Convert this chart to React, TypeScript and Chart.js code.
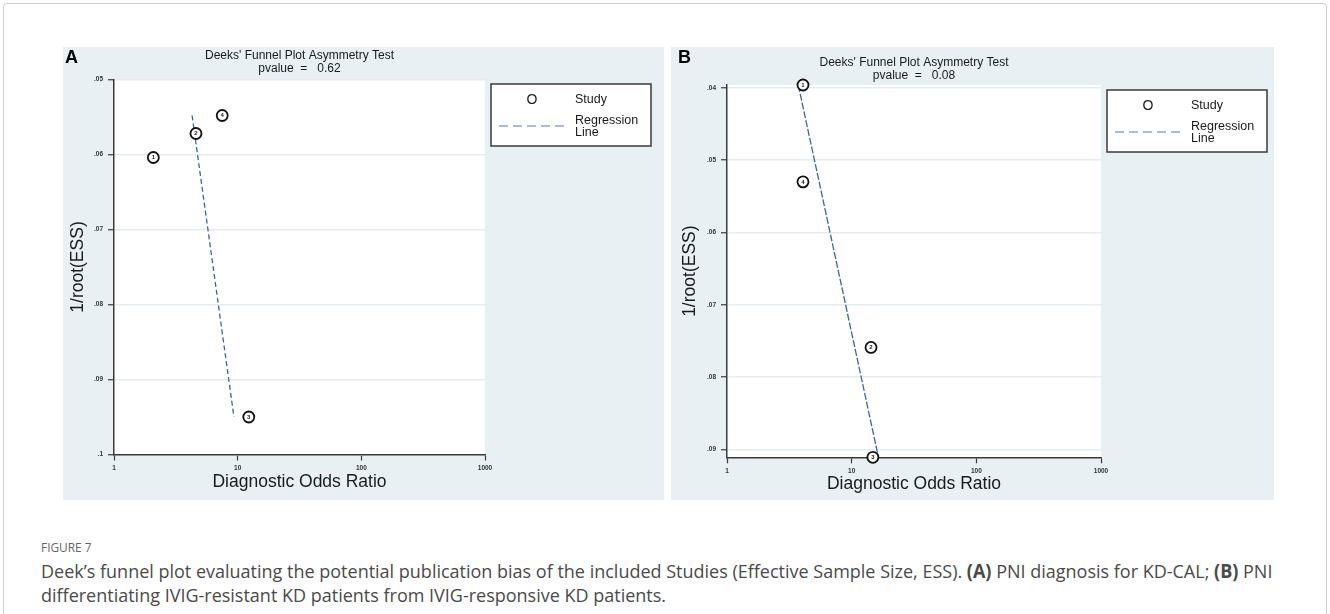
import React, { useEffect, useRef } from "react";
import { Chart, registerables } from "chart.js";

Chart.register(...registerables);

// ---------- data ----------
const xTickValues = [1, 10, 100, 1000];
const studyLabels = ["1", "2", "3", "4"];

// Panel A
const dorA = [2.08, 4.6, 12.3, 7.5];
const essA = [0.0604, 0.0572, 0.095, 0.0548];
const lineDorA = [4.28, 9.33];
const lineEssA = [0.0548, 0.095];
const yTicksA = [0.05, 0.06, 0.07, 0.08, 0.09, 0.1];
const yRangeA = [0.05, 0.1];
const pvalueA = "0.62";

// Panel B
const dorB = [4.07, 14.3, 14.8, 4.07];
const essB = [0.0396, 0.0759, 0.0911, 0.053];
const lineDorB = [3.73, 16.4];
const lineEssB = [0.0396, 0.0911];
const yTicksB = [0.04, 0.05, 0.06, 0.07, 0.08, 0.09];
const yRangeB = [0.0396, 0.0911];
const pvalueB = "0.08";

const titleText = "Deeks' Funnel Plot Asymmetry Test";
const xTitle = "Diagnostic Odds Ratio";
const yTitle = "1/root(ESS)";
const legendStudy = "Study";
const legendLine = ["Regression", "Line"];

// ---------- styles ----------
const FONT = '"Liberation Sans", Arial, Helvetica, sans-serif';
const PANEL_BG = "#e8f0f3";
const GRID = "#e3ecf0";
const AXIS = "#3a3a3a";
const TEXT = "#1a1a1a";
const REG = "#40649a";

type Box = { left: number; top: number; width: number; height: number };
type Area = { left: number; right: number; top: number; bottom: number };

type PanelProps = {
  letter: string;
  dor: number[];
  ess: number[];
  lineDor: number[];
  lineEss: number[];
  yTicks: number[];
  yRange: number[];
  pvalue: string;
  box: Box;
  area: Area;
  yTitlePad: number;
  xTitlePad: number;
  titleY: number;
  letterX: number;
  legend: { x: number; y: number };
  lineDash: number[];
};

const fmtY = (v: number) => {
  let s = Number(v).toFixed(2);
  s = s.replace(/^0/, "");
  s = s.replace(/0$/, "");
  return s;
};

function Panel(p: PanelProps) {
  const ref = useRef<HTMLCanvasElement | null>(null);

  useEffect(() => {
    if (!ref.current) return;
    const { box, area } = p;
    const padding = {
      left: 0,
      top: area.top,
      right: box.width - area.right,
      bottom: 0,
    };
    const yW = area.left;
    const xH = box.height - area.bottom;

    const deco = {
      id: "panelDeco",
      beforeDraw(chart: any) {
        const { ctx, chartArea: ca, width, height } = chart;
        ctx.save();
        ctx.fillStyle = PANEL_BG;
        ctx.fillRect(0, 0, width, height);
        ctx.fillStyle = "#ffffff";
        ctx.fillRect(ca.left, ca.top, ca.right - ca.left, ca.bottom - ca.top);
        ctx.restore();
      },
      afterDatasetsDraw(chart: any) {
        const { ctx } = chart;
        const meta = chart.getDatasetMeta(0);
        ctx.save();
        ctx.fillStyle = TEXT;
        ctx.font = `bold 6px ${FONT}`;
        ctx.textAlign = "center";
        ctx.textBaseline = "middle";
        meta.data.forEach((el: any, i: number) => {
          ctx.fillText(studyLabels[i], el.x, el.y + 0.3);
        });
        ctx.restore();
      },
      afterDraw(chart: any) {
        const { ctx, chartArea: ca } = chart;
        ctx.save();
        // panel letter
        ctx.fillStyle = "#000";
        ctx.font = `bold 18px ${FONT}`;
        ctx.textAlign = "left";
        ctx.textBaseline = "middle";
        ctx.fillText(p.letter, p.letterX, 11);
        // title
        const cx = (ca.left + ca.right) / 2;
        ctx.fillStyle = TEXT;
        ctx.font = `12px ${FONT}`;
        ctx.textAlign = "center";
        ctx.fillText(titleText, cx, p.titleY);
        ctx.fillText(`pvalue  =   ${p.pvalue}`, cx, p.titleY + 12.7);
        // legend
        const lx = p.legend.x;
        const ly = p.legend.y;
        ctx.fillStyle = "#ffffff";
        ctx.fillRect(lx, ly, 160, 62);
        ctx.strokeStyle = AXIS;
        ctx.lineWidth = 1.5;
        ctx.strokeRect(lx, ly, 160, 62);
        ctx.fillStyle = TEXT;
        ctx.font = `14px ${FONT}`;
        ctx.textAlign = "center";
        ctx.fillText("O", lx + 41, ly + 16);
        ctx.font = `12.5px ${FONT}`;
        ctx.textAlign = "left";
        ctx.fillText(legendStudy, lx + 84, ly + 16);
        ctx.fillText(legendLine[0], lx + 84, ly + 37);
        ctx.fillText(legendLine[1], lx + 84, ly + 48.5);
        ctx.strokeStyle = "#8ea8c6";
        ctx.lineWidth = 1.3;
        ctx.setLineDash([9, 5]);
        ctx.beginPath();
        ctx.moveTo(lx + 8, ly + 42);
        ctx.lineTo(lx + 74, ly + 42);
        ctx.stroke();
        ctx.restore();
      },
    };

    const chart = new Chart(ref.current, {
      type: "scatter",
      data: {
        datasets: [
          {
            label: legendStudy,
            data: p.dor.map((x, i) => ({ x, y: p.ess[i] })),
            pointRadius: 5.5,
            pointHoverRadius: 5.5,
            pointBorderWidth: 1.8,
            borderColor: "#111111",
            backgroundColor: "#ffffff",
            pointBackgroundColor: "#ffffff",
            pointBorderColor: "#111111",
            clip: false,
            order: 0,
          } as any,
          {
            label: legendLine.join(" "),
            data: p.lineDor.map((x, i) => ({ x, y: p.lineEss[i] })),
            showLine: true,
            pointRadius: 0,
            borderColor: REG,
            borderWidth: 1.3,
            borderDash: p.lineDash,
            clip: false,
            order: 1,
          } as any,
        ],
      },
      options: {
        animation: false,
        responsive: false,
        devicePixelRatio: 1,
        events: [],
        layout: { padding },
        plugins: {
          legend: { display: false },
          title: { display: false },
          tooltip: { enabled: false },
        },
        scales: {
          x: {
            type: "logarithmic",
            position: "bottom",
            min: 1,
            max: 1000,
            afterBuildTicks: (s: any) => {
              s.ticks = xTickValues.map((v) => ({ value: v }));
            },
            afterFit: (s: any) => {
              s.height = xH;
            },
            ticks: {
              autoSkip: false,
              maxRotation: 0,
              padding: 4,
              color: "#333",
              font: { family: FONT, size: 6.5, weight: "bold" },
              callback: (v: any) => String(v),
            },
            grid: {
              drawOnChartArea: false,
              drawTicks: true,
              tickLength: 6,
              tickColor: AXIS,
              tickWidth: 1.2,
            },
            border: { display: true, color: AXIS, width: 1.5 },
            title: {
              display: true,
              text: xTitle,
              color: TEXT,
              font: { family: FONT, size: 17.5 },
              padding: { top: 0, bottom: p.xTitlePad },
            },
          } as any,
          y: {
            type: "linear",
            reverse: true,
            min: p.yRange[0],
            max: p.yRange[1],
            afterBuildTicks: (s: any) => {
              s.ticks = p.yTicks.map((v) => ({ value: v }));
            },
            afterFit: (s: any) => {
              s.width = yW;
            },
            ticks: {
              padding: 5,
              color: "#333",
              font: { family: FONT, size: 6.5, weight: "bold" },
              callback: (v: any) => fmtY(v),
            },
            grid: {
              color: GRID,
              lineWidth: 1.5,
              drawTicks: true,
              tickLength: 6,
              tickColor: AXIS,
              tickWidth: 1.2,
            },
            border: { display: true, color: AXIS, width: 1.5 },
            title: {
              display: true,
              text: yTitle,
              color: TEXT,
              font: { family: FONT, size: 17.5 },
              padding: { top: p.yTitlePad, bottom: 0 },
            },
          } as any,
        },
      },
      plugins: [deco],
    });

    return () => chart.destroy();
  }, []);

  return (
    <canvas
      ref={ref}
      width={p.box.width}
      height={p.box.height}
      style={{
        position: "absolute",
        left: p.box.left,
        top: p.box.top,
        width: p.box.width,
        height: p.box.height,
        display: "block",
      }}
    />
  );
}

export default function App() {
  return (
    <div
      style={{
        position: "absolute",
        left: 0,
        top: 0,
        width: 1330,
        height: 614,
        background: "#ffffff",
        overflow: "hidden",
      }}
    >
      <div
        style={{
          position: "absolute",
          left: 3,
          top: 3,
          width: 1322,
          height: 700,
          border: "1px solid #cfcfcf",
          borderRadius: 4,
        }}
      />
      <Panel
        letter="A"
        dor={dorA}
        ess={essA}
        lineDor={lineDorA}
        lineEss={lineEssA}
        yTicks={yTicksA}
        yRange={yRangeA}
        pvalue={pvalueA}
        box={{ left: 63, top: 47, width: 601, height: 453 }}
        area={{ left: 51, right: 422, top: 32.5, bottom: 407.5 }}
        yTitlePad={5}
        xTitlePad={7.8}
        titleY={9}
        letterX={2}
        legend={{ x: 428, y: 37 }}
        lineDash={[5, 3]}
      />
      <Panel
        letter="B"
        dor={dorB}
        ess={essB}
        lineDor={lineDorB}
        lineEss={lineEssB}
        yTicks={yTicksB}
        yRange={yRangeB}
        pvalue={pvalueB}
        box={{ left: 671, top: 47, width: 603, height: 453 }}
        area={{ left: 56, right: 430, top: 38, bottom: 410.3 }}
        yTitlePad={8.5}
        xTitlePad={5.2}
        titleY={15.7}
        letterX={7}
        legend={{ x: 436, y: 43 }}
        lineDash={[7, 2]}
      />
      <div
        style={{
          position: "absolute",
          left: 41,
          top: 538,
          fontFamily: '"Open Sans", "Noto Sans", sans-serif',
          fontSize: 13.5,
          lineHeight: "18px",
          color: "#666666",
          transform: "scaleX(0.88)",
          transformOrigin: "left top",
          whiteSpace: "nowrap",
        }}
      >
        FIGURE 7
      </div>
      <div
        style={{
          position: "absolute",
          left: 41,
          top: 559,
          fontFamily: '"Open Sans", "Noto Sans", sans-serif',
          fontSize: 19,
          lineHeight: "24px",
          color: "#4a4a4a",
          transform: "scaleX(0.947)",
          transformOrigin: "left top",
          whiteSpace: "nowrap",
        }}
      >
        Deek’s funnel plot evaluating the potential publication bias of the included Studies (Effective Sample Size, ESS).{" "}
        <b>(A)</b> PNI diagnosis for KD-CAL; <b>(B)</b> PNI
        <br />
        differentiating IVIG-resistant KD patients from IVIG-responsive KD patients.
      </div>
    </div>
  );
}
